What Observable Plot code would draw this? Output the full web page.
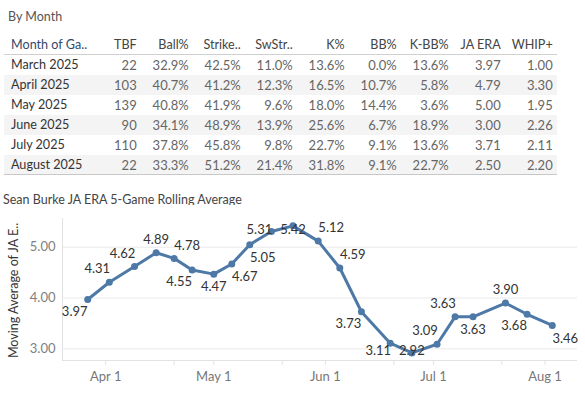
<!DOCTYPE html>
<html><head><meta charset="utf-8">
<script src="https://cdn.jsdelivr.net/npm/d3@7"></script>
<script src="https://cdn.jsdelivr.net/npm/@observablehq/plot@0.6"></script>
<style>
  html,body{margin:0;padding:0;background:#fff;}
  body{width:585px;height:394px;overflow:hidden;position:relative;font-family:Lato,"Noto Sans",sans-serif;}
  .abs{position:absolute;white-space:nowrap;}
  #t1{left:8px;top:8px;font-size:12.5px;color:#555;line-height:18px;}
  #t2{left:3px;top:191px;font-size:12.5px;color:#444;line-height:18px;}
  #tbl{position:absolute;left:0;top:0;width:585px;height:180px;}
  .row{position:absolute;left:4px;width:553px;height:20px;}
  .cell{position:absolute;font-size:13px;line-height:20px;top:0;}
  .cell.txt{font-size:12.6px;}
  #chart{position:absolute;left:0;top:205px;}
</style></head>
<body>
<div id="t1" class="abs">By Month</div>
<div id="tbl"></div>
<div id="t2" class="abs">Sean Burke JA ERA 5-Game Rolling Average</div>
<div id="chart"></div>
<script>
// ---- table data ----
const headers = ["Month of Ga..","TBF","Ball%","Strike..","SwStr..","K%","BB%","K-BB%","JA ERA","WHIP+"];
const months = ["March 2025","April 2025","May 2025","June 2025","July 2025","August 2025"];
const tbf = [22,103,139,90,110,22];
const ballPct = [32.9,40.7,40.8,34.1,37.8,33.3];
const strikePct = [42.5,41.2,41.9,48.9,45.8,51.2];
const swStrPct = [11.0,12.3,9.6,13.9,9.8,21.4];
const kPct = [13.6,16.5,18.0,25.6,22.7,31.8];
const bbPct = [0.0,10.7,14.4,6.7,9.1,9.1];
const kbbPct = [13.6,5.8,3.6,18.9,13.6,22.7];
const jaEra = [3.97,4.79,5.00,3.00,3.71,2.50];
const whipPlus = [1.00,3.30,1.95,2.26,2.11,2.20];

// ---- chart data ----
const gameDates = ["2025-03-27","2025-04-02","2025-04-09","2025-04-15","2025-04-20","2025-04-25","2025-05-01","2025-05-06","2025-05-11","2025-05-17","2025-05-23","2025-05-30","2025-06-05","2025-06-11","2025-06-19","2025-06-25","2025-07-02","2025-07-07","2025-07-12","2025-07-21","2025-07-27","2025-08-03"];
const rollingEra = [3.97,4.31,4.62,4.89,4.78,4.55,4.47,4.67,5.05,5.31,5.42,5.12,4.59,3.73,3.11,2.92,3.09,3.63,3.63,3.90,3.68,3.46];
const monthTicks = ["2025-04-01","2025-05-01","2025-06-01","2025-07-01","2025-08-01"];
const minorTicks = ["2025-04-20","2025-05-20","2025-06-20","2025-07-20"];
const yTicks = [3,4,5];
const yLabel = ["Moving Average of JA E.."];

// label placement (style)
const labelPos = ["bl","tl","tl","t","tr","bl","b","br","br","l","c1","tr","tr","bl","lb","c2","tl","tl","b","t","bl","br"];
const offsets = {bl:[-13,12], lb:[-12,8], tl:[-12,-13], t:[0,-13], tr:[13,-13], b:[0,13], br:[13,13], l:[-12,-2], c1:[0,4], c2:[0,-2]};

// ---- build table ----
const pct = v => v.toFixed(1) + "%";
const cols = [
  {vals: tbf, f: v => String(v)},
  {vals: ballPct, f: pct},
  {vals: strikePct, f: pct},
  {vals: swStrPct, f: pct},
  {vals: kPct, f: pct},
  {vals: bbPct, f: pct},
  {vals: kbbPct, f: pct},
  {vals: jaEra, f: v => v.toFixed(2)},
  {vals: whipPlus, f: v => v.toFixed(2)}
];
const tbl = d3.select("#tbl");
const hdr = tbl.append("div").attr("class","row").style("top","35px").style("height","19px").style("border-bottom","1px solid #d0d0d0");
hdr.append("div").attr("class","cell txt").style("left","7px").style("line-height","19px").style("color","#34496a").text(headers[0]);
headers.slice(1).forEach((h,i)=>{
  hdr.append("div").attr("class","cell txt").style("line-height","19px").style("right",(553 - (132.7 + 52*i))+"px").style("color","#444").text(h);
});
months.forEach((m,r)=>{
  const row = tbl.append("div").attr("class","row").style("top",(55+20*r)+"px")
    .style("background", r%2===1 ? "#f4f4f4" : "#fff");
  row.append("div").attr("class","cell txt").style("left","7px").style("color","#333").text(m);
  cols.forEach((c,i)=>{
    row.append("div").attr("class","cell").style("right",(553 - (132.7 + 52*i))+"px").style("color","#666").text(c.f(c.vals[r]));
  });
});
tbl.append("div").style("position","absolute").style("left","4px").style("top","174px").style("width","553px").style("height","1px").style("background","#c8c8c8");

// ---- chart ----
const parse = d3.utcParse("%Y-%m-%d");
const data = gameDates.map((d,i)=>({date: parse(d), era: rollingEra[i], pos: labelPos[i]}));
const xDomain = [parse("2025-03-20"), parse("2025-08-10")];
const yDomain = [2.77, 5.565];
const blue = "#4e79a7";

const chart = Plot.plot({
  width: 585,
  height: 189,
  marginTop: 13,
  marginBottom: 34,
  marginLeft: 62,
  marginRight: 8,
  style: {fontFamily: "Lato, 'Noto Sans', sans-serif", fontSize: "13px", background: "#fff"},
  x: {type: "utc", domain: xDomain},
  y: {domain: yDomain},
  marks: [
    Plot.gridY(yTicks, {stroke: "#e9e9e9", strokeOpacity: 1}),
    Plot.ruleY([yDomain[0]], {stroke: "#e2e2e2"}),
    Plot.ruleX([xDomain[0]], {stroke: "#e2e2e2"}),
    Plot.axisX(minorTicks.map(parse), {tickSize: 5, stroke: "#e2e2e2", tickFormat: () => "", label: null}),
    Plot.axisX(monthTicks.map(parse), {tickSize: 5, tickPadding: 6, stroke: "#e2e2e2", fill: "#777", fontSize: 13, tickFormat: d3.utcFormat("%b %-d"), label: null}),
    Plot.axisY(yTicks, {tickSize: 0, tickPadding: 7, fill: "#808080", fontSize: 13, tickFormat: d3.format(".2f"), label: null}),
    Plot.text(yLabel, {text: d => d, frameAnchor: "left", textAnchor: "middle", rotate: -90, dx: -49, dy: 1, fontSize: 12.5, fill: "#333"}),
    Plot.line(data, {x: "date", y: "era", stroke: blue, strokeWidth: 3, strokeLinejoin: "round"}),
    Plot.dot(data, {x: "date", y: "era", r: 3.5, fill: blue, stroke: "none"}),
    ...Object.entries(offsets).map(([k,[dx,dy]]) =>
      Plot.text(data.filter(d => d.pos === k), {x: "date", y: "era", text: d => d.era.toFixed(2), dx, dy, fontSize: 13, fill: "#333"}))
  ]
});
document.getElementById("chart").append(chart);
</script>
</body></html>
